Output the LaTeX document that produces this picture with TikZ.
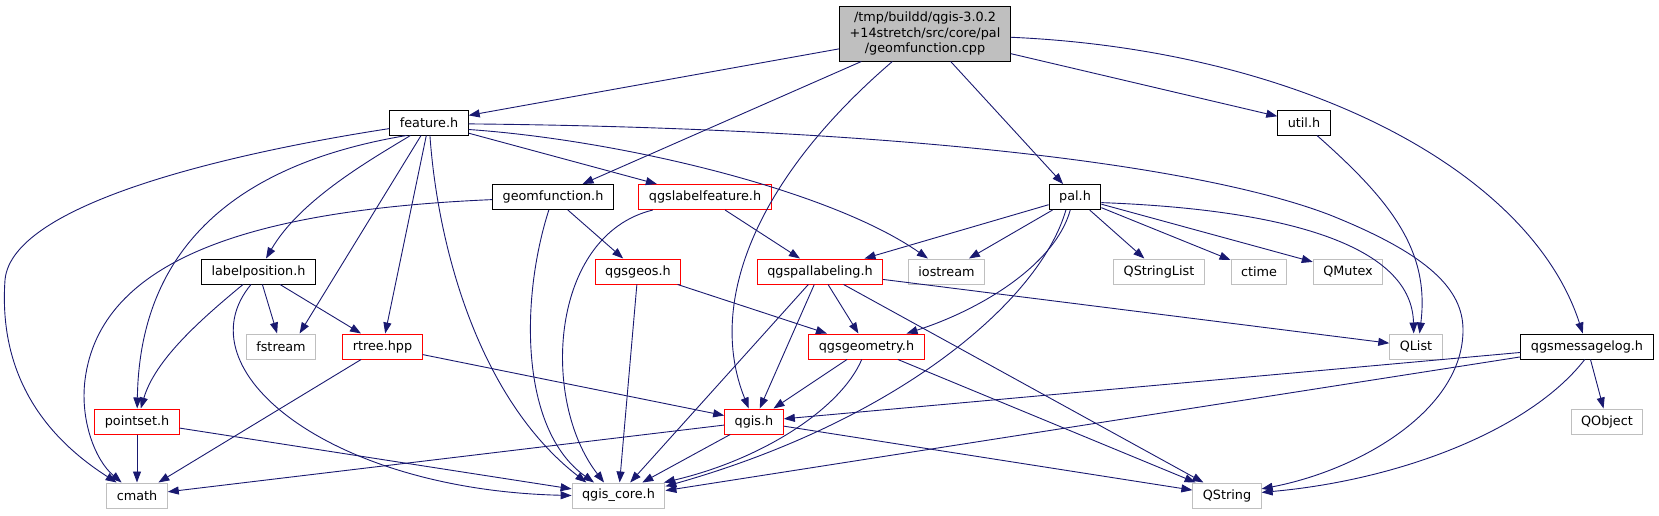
\documentclass[tikz,border=0pt]{standalone}
\usepackage{fontspec}
\setmainfont{DejaVu Sans}
\usetikzlibrary{arrows.meta}
\definecolor{navy}{HTML}{191970}
\definecolor{grey75}{HTML}{BFBFBF}

\begin{document}
\begin{tikzpicture}[x=1pt, y=1pt,
        hdr/.style={rectangle, draw=black, line width=1pt, fill=white,
                    font=\fontsize{12.8}{15.5}\selectfont,
                    inner xsep=10pt, inner ysep=2pt, minimum height=25pt},
        ext/.style={hdr, draw=grey75},
        trunc/.style={hdr, draw=red},
        srcbox/.style={hdr, fill=grey75, align=center, minimum height=55pt},
        dep/.style={-{Triangle[length=11pt,width=8pt]}, line width=0.9pt, navy}]
      \useasboundingbox (0,0) rectangle (1659,-515);
      % files
      \node[srcbox] (src) at (925,-33.5) {/tmp/buildd/qgis-3.0.2\\+14stretch/src/core/pal\\/geomfunction.cpp};
      \node[hdr] (feat) at (429,-122.5) {feature.h};
      \node[hdr] (util) at (1304,-122.5) {util.h};
      \node[hdr] (geom) at (553,-197) {geomfunction.h};
      \node[trunc] (lblf) at (705,-197) {qgslabelfeature.h};
      \node[hdr] (pal) at (1075,-197) {pal.h};
      \node[hdr] (lpos) at (258.5,-271.5) {labelposition.h};
      \node[trunc] (geos) at (638,-271.5) {qgsgeos.h};
      \node[trunc] (pall) at (820,-271.5) {qgspallabeling.h};
      \node[ext] (iostr) at (946.5,-271.5) {iostream};
      \node[ext] (qsl) at (1159,-271.5) {QStringList};
      \node[ext] (ctm) at (1259,-271.5) {ctime};
      \node[ext] (qmtx) at (1348,-271.5) {QMutex};
      \node[ext] (fstr) at (281,-346.5) {fstream};
      \node[trunc] (rtree) at (382.5,-346.5) {rtree.hpp};
      \node[trunc] (qgeo) at (866.5,-346.5) {qgsgeometry.h};
      \node[ext] (qlist) at (1416,-346.5) {QList};
      \node[hdr] (mlog) at (1587,-346.5) {qgsmessagelog.h};
      \node[trunc] (pset) at (137,-421.5) {pointset.h};
      \node[trunc] (qgis) at (754,-421.5) {qgis.h};
      \node[ext] (qobj) at (1607,-421.5) {QObject};
      \node[ext] (cmath) at (137,-495.5) {cmath};
      \node[ext] (core) at (618.5,-495.5) {qgis\_core.h};
      \node[ext] (qstr) at (1227,-495.5) {QString};

      % includes of the source file
      \draw[dep] (src) -- (feat);
      \draw[dep] (src) -- (geom);
      \draw[dep] (src) .. controls (760,-175) and (705,-300) .. (qgis);
      \draw[dep] (src) -- (pal);
      \draw[dep] (src) -- (util);
      \draw[dep] (src) .. controls (1300,-50) and (1530,-170) .. (mlog);

      % feature.h
      \draw[dep] (feat) .. controls (250,-150) and (12,-200) .. (5,-280)
                 .. controls (-2,-380) and (50,-440) .. (cmath);
      \draw[dep] (feat.-150) .. controls (260,-160) and (140,-230) .. (pset);
      \draw[dep] (feat.-145) .. controls (370,-160) and (300,-200) .. (lpos);
      \draw[dep] (feat) -- (fstr.35);
      \draw[dep] (feat) -- (rtree);
      \draw[dep] (feat) .. controls (438,-250) and (480,-400) .. (core.158);
      \draw[dep] (feat) -- (lblf);
      \draw[dep] (feat.-10) .. controls (620,-140) and (830,-190) .. (iostr.145);
      \draw[dep] (feat.-2) .. controls (900,-128) and (1200,-165) .. (1330,-215)
                 .. controls (1430,-255) and (1463,-290) .. (1463,-330)
                 .. controls (1463,-410) and (1360,-470) .. (qstr);

      % geomfunction.h and qgslabelfeature.h
      \draw[dep] (geom) .. controls (250,-210) and (100,-260) .. (85,-380)
                 .. controls (80,-420) and (95,-460) .. (cmath);
      \draw[dep] (geom) .. controls (520,-300) and (520,-430) .. (core.152);
      \draw[dep] (geom) -- (geos);
      \draw[dep] (lblf.-166) .. controls (550,-235) and (540,-400) .. (core.138);
      \draw[dep] (lblf) -- (pall);

      % pal.h
      \draw[dep] (pal) -- (pall);
      \draw[dep] (pal) -- (iostr);
      \draw[dep] (pal.-110) .. controls (1055,-265) and (980,-310) .. (qgeo.18);
      \draw[dep] (pal.-125) .. controls (1040,-300) and (900,-420) .. (core.11);
      \draw[dep] (pal) -- (qsl);
      \draw[dep] (pal) -- (ctm);
      \draw[dep] (pal) -- (qmtx);
      \draw[dep] (pal.-12) .. controls (1300,-210) and (1412,-250) .. (qlist.100);
      \draw[dep] (util.-45) .. controls (1390,-200) and (1430,-250) .. (qlist.75);

      % qgspallabeling.h, qgsgeos.h, qgsgeometry.h
      \draw[dep] (pall) -- (qgeo);
      \draw[dep] (pall) -- (qgis);
      \draw[dep] (pall) -- (core);
      \draw[dep] (pall) -- (qstr);
      \draw[dep] (pall) -- (qlist);
      \draw[dep] (geos) -- (core);
      \draw[dep] (geos) -- (qgeo);
      \draw[dep] (qgeo) -- (qgis);
      \draw[dep] (qgeo.-110) .. controls (840,-410) and (760,-460) .. (core.16);
      \draw[dep] (qgeo) -- (qstr);

      % labelposition.h, rtree.hpp, pointset.h
      \draw[dep] (lpos.-140) .. controls (200,-320) and (155,-360) .. (pset);
      \draw[dep] (lpos) -- (fstr);
      \draw[dep] (lpos) -- (rtree);
      \draw[dep] (lpos.-120) .. controls (180,-370) and (330,-490) .. (core.180);
      \draw[dep] (rtree) -- (cmath);
      \draw[dep] (rtree) -- (qgis);
      \draw[dep] (pset) -- (cmath);
      \draw[dep] (pset) -- (core.172);

      % qgis.h and qgsmessagelog.h
      \draw[dep] (qgis) -- (cmath);
      \draw[dep] (qgis) -- (core);
      \draw[dep] (qgis) -- (qstr);
      \draw[dep] (mlog) -- (qgis);
      \draw[dep] (mlog) -- (core.6);
      \draw[dep] (mlog) -- (qobj);
      \draw[dep] (mlog.-100) .. controls (1530,-430) and (1400,-480) .. (qstr);
    \end{tikzpicture}
\end{document}
